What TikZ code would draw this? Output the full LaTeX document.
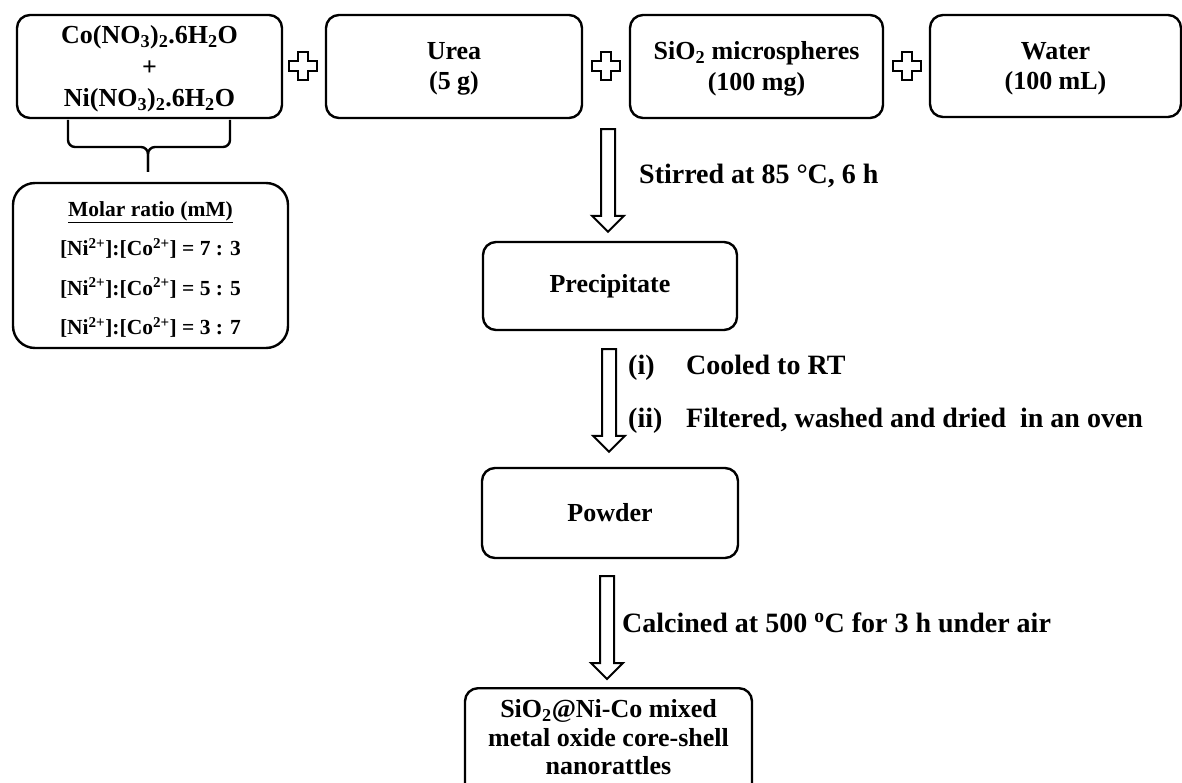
\documentclass[tikz,border=0pt]{standalone}
\usepackage{fontspec}
\setmainfont{Liberation Serif}
\usetikzlibrary{calc}
\begin{document}
\begin{tikzpicture}[x=1pt,y=-1pt,
  box/.style={draw, line width=2.4pt, rounded corners=13pt, inner sep=0pt,
    align=center, font=\fontsize{26}{30.5}\selectfont\bfseries},
  boxtext/.style={inner sep=0pt, align=center},
  lbl/.style={inner sep=0pt, anchor=base west, font=\fontsize{28}{32}\selectfont\bfseries},
  blockarrow/.style={draw, line width=2pt, line join=miter,
    to path={let \p1=(\tikztostart), \p2=(\tikztotarget) in
      (\x1-7pt,\y1) -- (\x1+7pt,\y1) -- (\x1+7pt,\y2+16pt) -- (\x1+16pt,\y2+16pt)
      -- (\x1,\y2) -- (\x1-16pt,\y2+16pt) -- (\x1-7pt,\y2+16pt) -- cycle}},
  plussign/.pic={
    \draw[line width=2.2pt, line join=miter]
      (-5,-14) -- (5,-14) -- (5,-5) -- (14,-5) -- (14,5) -- (5,5) -- (5,14)
      -- (-5,14) -- (-5,5) -- (-14,5) -- (-14,-5) -- (-5,-5) -- cycle;}
]
\useasboundingbox (0,0) rectangle (1182,783);
\clip (0,0) rectangle (1182,783);

% starting materials
\node[box, minimum width=265, minimum height=103] (b1) at (149.5,66.5) {};
\node[boxtext, font=\fontsize{26}{31.5}\selectfont\bfseries] (b1txt) at (149.5,69)
  {Co(NO\textsubscript{3})\textsubscript{2}.6H\textsubscript{2}O\\+\\Ni(NO\textsubscript{3})\textsubscript{2}.6H\textsubscript{2}O};
\node[box, minimum width=256, minimum height=103] (b2) at (454,66.5) {};
\node[boxtext, font=\fontsize{26}{30.5}\selectfont\bfseries] (b2txt) at (454,69) {Urea\\(5 g)};
\node[box, minimum width=253, minimum height=103] (b3) at (756.5,66.5) {};
\node[boxtext, font=\fontsize{26}{30.5}\selectfont\bfseries] (b3txt) at (756.5,69)
  {SiO\textsubscript{2} microspheres\\(100 mg)};
\node[box, minimum width=251, minimum height=102] (b4) at (1055.5,66) {};
\node[boxtext, font=\fontsize{26}{30.5}\selectfont\bfseries] (b4txt) at (1055.5,69) {Water\\(100 mL)};

\pic at (303,66) {plussign};
\pic at (606,66) {plussign};
\pic at (907,66) {plussign};

% brace under the nitrate box
\coordinate (brL) at (68,120);
\coordinate (brR) at (230,120);
\coordinate (brM) at (148,147);
\coordinate (brTip) at (148,172);
\draw[line width=2.4pt, rounded corners=7pt] (brL) |- (brM) -- (brTip);
\draw[line width=2.4pt, rounded corners=7pt] (brR) |- (brM) -- (brTip);

% molar ratios
\node[box, rounded corners=22pt, minimum width=275, minimum height=165] (molar) at (150.5,265.5) {};
\node[boxtext, font=\fontsize{21.5}{39.5}\selectfont\bfseries] (molartxt) at (150.5,269.5)
  {\underline{Molar ratio (mM)}\\
   {[}Ni\textsuperscript{2+}{]}:{[}Co\textsuperscript{2+}{]} = 7 : 3\\
   {[}Ni\textsuperscript{2+}{]}:{[}Co\textsuperscript{2+}{]} = 5 : 5\\
   {[}Ni\textsuperscript{2+}{]}:{[}Co\textsuperscript{2+}{]} = 3 : 7};

% process chain
\node[box, minimum width=254, minimum height=88] (prec) at (610,286) {Precipitate};
\node[box, minimum width=256, minimum height=90] (powder) at (610,513) {Powder};
\node[box, minimum width=287, minimum height=125, anchor=north] (final) at (608.5,687) {};
\node[boxtext, font=\fontsize{26}{28.5}\selectfont\bfseries] (finaltxt) at (608.5,737.5)
  {SiO\textsubscript{2}@Ni-Co mixed\\metal oxide core-shell\\nanorattles};

\draw[blockarrow] ($(b3.south -| prec.north)+(-2,10)$) to ($(prec.north)+(-2,-9)$);
\draw[blockarrow] ($(prec.south)+(-1,18)$) to ($(powder.north)+(-1,-15)$);
\draw[blockarrow] ($(powder.south)+(-3,17)$) to ($(final.north)+(-2,-8)$);

% step conditions
\node[lbl] (stir) at (639,184) {Stirred at 85 °C, 6 h};
\node[lbl] (s1) at (628,374) {(i)};
\node[lbl] (cool) at (686,374) {Cooled to RT};
\node[lbl] (s2) at (628,427) {(ii)};
\node[lbl] (filt) at (686,427) {Filtered, washed and dried\ \ in an oven};
\node[lbl] (calc) at (622,632) {Calcined at 500 \textsuperscript{o}C for 3 h under air};
\end{tikzpicture}
\end{document}
